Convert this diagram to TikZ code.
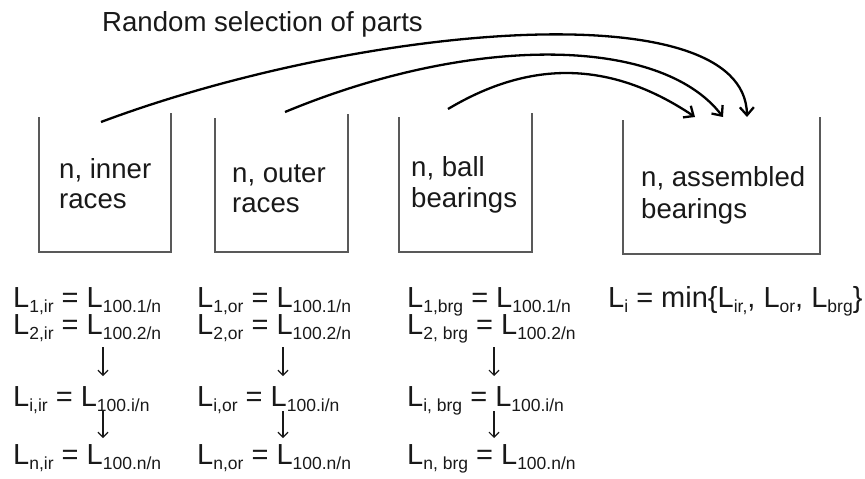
\documentclass[tikz,border=0pt]{standalone}
\usepackage{fontspec}
\setmainfont{Liberation Sans}
\usetikzlibrary{arrows.meta}
\definecolor{wall}{gray}{0.35}
\definecolor{ink}{gray}{0.1}
\newcommand\subf{\fontsize{17.5}{18}\selectfont}
\newcommand\Lsub[1]{L\raisebox{-5pt}{\subf #1}}
\begin{document}
\begin{tikzpicture}[x=1pt,y=-1pt,
  lbl/.style={inner sep=0pt, anchor=base west, text=ink, font=\fontsize{27.6}{31}\selectfont},
  fml/.style={inner sep=0pt, anchor=base west, text=ink, font=\fontsize{29}{31}\selectfont},
  wallline/.style={draw=wall, line width=1.4pt},
  pick/.style={draw=black, line width=2.3pt, -{Straight Barb[length=8pt,width=14pt,line width=2.3pt]}},
  down/.style={draw=ink, line width=1.2pt, -{Straight Barb[length=5pt,width=10pt,line width=1.2pt]}}]
\useasboundingbox (0,0) rectangle (865,479);
% title
\node[lbl] (title) at (102,31) {Random selection of parts};
% boxes (open top)
\draw[wallline] (39,117) -- (39,252) -- (171,252) -- (171,113);
\draw[wallline] (215,118) -- (215,252) -- (348,252) -- (348,114);
\draw[wallline] (399,117) -- (399,252) -- (532,252) -- (532,113);
\draw[wallline] (623,120) -- (623,254) -- (820,254) -- (820,117);
% box texts
\node[lbl] (b1a) at (59,178) {n, inner};
\node[lbl] (b1b) at (59,208) {races};
\node[lbl] (b2a) at (232,182) {n, outer};
\node[lbl] (b2b) at (232,212) {races};
\node[lbl] (b3a) at (411,176) {n, ball};
\node[lbl] (b3b) at (411,207) {bearings};
\node[lbl] (b4a) at (641,186) {n, assembled};
\node[lbl] (b4b) at (641,218) {bearings};
% selection arrows
\coordinate (s1) at (101,122);
\coordinate (s2) at (285,112);
\coordinate (s3) at (448,109);
\coordinate (e1) at (747,117);
\coordinate (e2) at (723,117);
\coordinate (e3) at (695,117);
\draw[pick] (s1) .. controls (360,25) and (745,-10) .. (e1);
\draw[pick] (s2) .. controls (470,35) and (660,35) .. (e2);
\draw[pick] (s3) .. controls (530,60) and (610,60) .. (e3);
% formulas column 1
\node[fml] (f11) at (13,307) {\Lsub{1,ir} = \Lsub{100.1/n}};
\node[fml] (f12) at (13,334) {\Lsub{2,ir} = \Lsub{100.2/n}};
\node[fml] (f13) at (13,406) {\Lsub{i,ir} = \Lsub{100.i/n}};
\node[fml] (f14) at (13,464) {\Lsub{n,ir} = \Lsub{100.n/n}};
% column 2
\node[fml] (f21) at (197,307) {\Lsub{1,or} = \Lsub{100.1/n}};
\node[fml] (f22) at (197,334) {\Lsub{2,or} = \Lsub{100.2/n}};
\node[fml] (f23) at (197,406) {\Lsub{i,or} = \Lsub{100.i/n}};
\node[fml] (f24) at (197,464) {\Lsub{n,or} = \Lsub{100.n/n}};
% column 3
\node[fml] (f31) at (407,307) {\Lsub{1,brg} = \Lsub{100.1/n}};
\node[fml] (f32) at (407,334) {\Lsub{2, brg} = \Lsub{100.2/n}};
\node[fml] (f33) at (407,406) {\Lsub{i, brg} = \Lsub{100.i/n}};
\node[fml] (f34) at (407,464) {\Lsub{n, brg} = \Lsub{100.n/n}};
% column 4
\node[fml] (f41) at (608,307) {\Lsub{i} = min\{\Lsub{ir,}, \Lsub{or}, \Lsub{brg}\}};
% down arrows
\coordinate (d1a) at (103,347); \coordinate (d1b) at (103,376);
\coordinate (d1c) at (103,411); \coordinate (d1d) at (103,438);
\coordinate (d2a) at (283,347); \coordinate (d2b) at (283,376);
\coordinate (d2c) at (283,411); \coordinate (d2d) at (283,438);
\coordinate (d3a) at (494,347); \coordinate (d3b) at (494,376);
\coordinate (d3c) at (494,411); \coordinate (d3d) at (494,438);
\draw[down] (d1a) -- (d1b);
\draw[down] (d1c) -- (d1d);
\draw[down] (d2a) -- (d2b);
\draw[down] (d2c) -- (d2d);
\draw[down] (d3a) -- (d3b);
\draw[down] (d3c) -- (d3d);
\end{tikzpicture}
\end{document}
